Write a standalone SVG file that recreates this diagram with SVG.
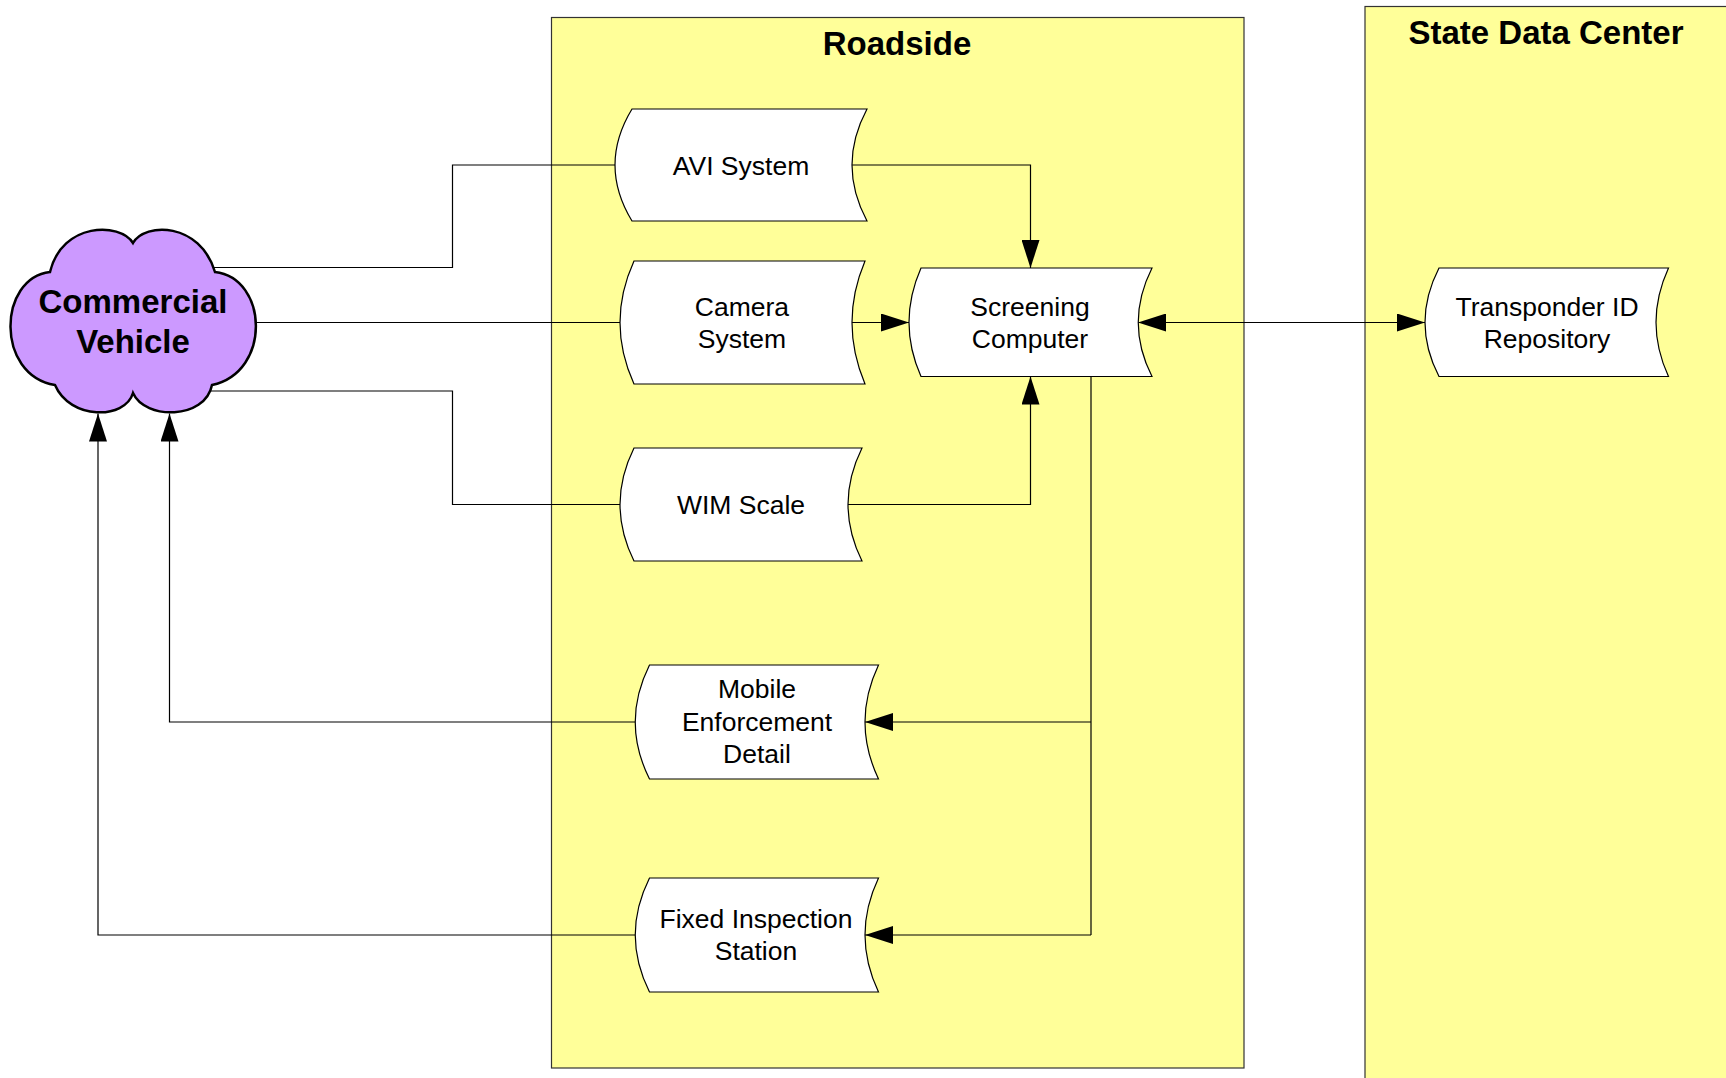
<svg xmlns="http://www.w3.org/2000/svg" width="1726" height="1078" viewBox="0 0 1726 1078">
<defs>
<marker id="arr" markerUnits="userSpaceOnUse" markerWidth="28" markerHeight="18" refX="28" refY="9" orient="auto-start-reverse" viewBox="0 0 28 18">
<path d="M0,0 L28,9 L0,18 Z" fill="#000"/>
</marker>
<style>
.lane{fill:#FFFF99;stroke:#333;stroke-width:1.2}
.node{fill:#fff;stroke:#000;stroke-width:1.2}
.cloud{fill:#CC99FF;stroke:#000;stroke-width:2.5}
.t{font-family:"Liberation Sans",Arial,sans-serif;font-size:26.5px;fill:#000;text-anchor:middle}
.tb{font-family:"Liberation Sans",Arial,sans-serif;font-size:33px;font-weight:bold;fill:#000;text-anchor:middle}
.c{fill:none;stroke:#000;stroke-width:1.2}
.a{marker-end:url(#arr)}
.ab{marker-start:url(#arr);marker-end:url(#arr)}
</style>
</defs>
<rect width="1726" height="1078" fill="#fff"/>
<g id="lane-roadside">
<rect class="lane" x="551.5" y="17.5" width="692.5" height="1050.5"/>
<text class="tb" x="897" y="55">Roadside</text>
</g>
<g id="lane-state">
<rect class="lane" x="1365" y="6.5" width="380" height="1090"/>
<text class="tb" x="1546" y="44">State Data Center</text>
</g>
<g id="connectors">
<polyline class="c" points="210,267.5 452.5,267.5 452.5,165 616,165"/>
<polyline class="c" points="240,322.5 620,322.5"/>
<polyline class="c" points="200,391 452.5,391 452.5,504.5 620,504.5"/>
<polyline class="c a" points="852,165 1030.5,165 1030.5,268"/>
<polyline class="c a" points="852,322.5 909,322.5"/>
<polyline class="c a" points="848,504.5 1030.5,504.5 1030.5,376.5"/>
<polyline class="c ab" points="1138,322.5 1425,322.5"/>
<polyline class="c" points="1091,376.5 1091,935"/>
<polyline class="c a" points="1091,722 865,722"/>
<polyline class="c a" points="1091,935 865,935"/>
<polyline class="c a" points="635,722 169.5,722 169.5,413.5"/>
<polyline class="c a" points="635,935 98,935 98,413.5"/>
</g>
<g id="commercial-vehicle">
<path class="cloud" d="M133,243 C145,222 200,222 215,272 C268,278 272,372 212,385 C205,420 145,420 133,393 C125,420 70,420 55,385 C-5,375 -2,278 50,272 C62,222 120,222 133,243 Z"/>
<text class="tb" x="133" y="312.5">Commercial</text>
<text class="tb" x="133" y="353">Vehicle</text>
</g>
<g id="avi-system">
<path class="node" d="M632,109 L867,109 Q837,165 867,221 L632,221 Q598,165 632,109 Z"/>
<text class="t" x="741" y="174.5">AVI System</text>
</g>
<g id="camera-system">
<path class="node" d="M634,261 L865,261 Q839,322.5 865,384 L634,384 Q606,322.5 634,261 Z"/>
<text class="t" x="742" y="315.5">Camera</text>
<text class="t" x="742" y="347.5">System</text>
</g>
<g id="wim-scale">
<path class="node" d="M634,448 L862,448 Q834,504.5 862,561 L634,561 Q606,504.5 634,448 Z"/>
<text class="t" x="741" y="514">WIM Scale</text>
</g>
<g id="screening-computer">
<path class="node" d="M921,268 L1152,268 Q1124.5,322.5 1152,376.5 L921,376.5 Q897,322.5 921,268 Z"/>
<text class="t" x="1030" y="315.5">Screening</text>
<text class="t" x="1030" y="347.5">Computer</text>
</g>
<g id="transponder-id-repository">
<path class="node" d="M1439,268 L1668.5,268 Q1643.5,322.5 1668.5,376.5 L1439,376.5 Q1411,322.5 1439,268 Z"/>
<text class="t" x="1547" y="315.5">Transponder ID</text>
<text class="t" x="1547" y="347.5">Repository</text>
</g>
<g id="mobile-enforcement-detail">
<path class="node" d="M649.5,665 L878.5,665 Q851.5,722 878.5,779 L649.5,779 Q621,722 649.5,665 Z"/>
<text class="t" x="757" y="698">Mobile</text>
<text class="t" x="757" y="731">Enforcement</text>
<text class="t" x="757" y="763">Detail</text>
</g>
<g id="fixed-inspection-station">
<path class="node" d="M649.5,878 L878.5,878 Q851.5,935 878.5,992 L649.5,992 Q621,935 649.5,878 Z"/>
<text class="t" x="756" y="928">Fixed Inspection</text>
<text class="t" x="756" y="960">Station</text>
</g>
</svg>
